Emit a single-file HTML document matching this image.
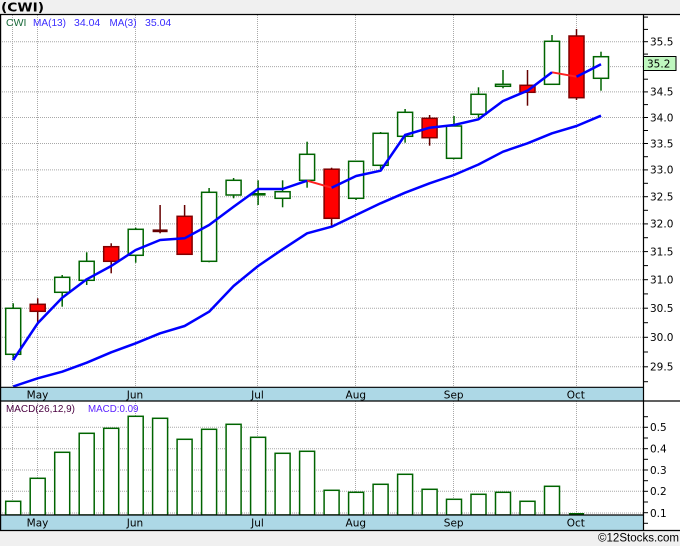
<!DOCTYPE html>
<html><head><meta charset="utf-8"><style>
html,body{margin:0;padding:0;background:#fff;}
svg{display:block;}
</style></head><body>
<svg width="680" height="546" viewBox="0 0 680 546" xmlns="http://www.w3.org/2000/svg">
<rect x="0" y="0" width="680" height="546" fill="#ffffff"/>
<!-- title bar -->
<rect x="0" y="0" width="680" height="14" fill="#f0f0f0"/>
<text x="1" y="11.5" font-family="DejaVu Sans, sans-serif" font-weight="bold" font-size="12.5" textLength="43" lengthAdjust="spacingAndGlyphs" fill="#000">(CWI)</text>
<!-- bottom gray -->
<rect x="0" y="531" width="680" height="15" fill="#f0f0f0"/>
<text x="598" y="541.5" font-family="Liberation Sans, sans-serif" font-size="11.5" textLength="81" lengthAdjust="spacingAndGlyphs" fill="#000">©12Stocks.com</text>

<!-- gridlines upper -->
<g stroke="#a8a8a8" stroke-width="1" stroke-dasharray="1,1" fill="none">
<line x1="0" y1="41.7" x2="643" y2="41.7"/>
<line x1="0" y1="66.6" x2="643" y2="66.6"/>
<line x1="0" y1="91.9" x2="643" y2="91.9"/>
<line x1="0" y1="117.5" x2="643" y2="117.5"/>
<line x1="0" y1="143.5" x2="643" y2="143.5"/>
<line x1="0" y1="169.9" x2="643" y2="169.9"/>
<line x1="0" y1="196.7" x2="643" y2="196.7"/>
<line x1="0" y1="223.9" x2="643" y2="223.9"/>
<line x1="0" y1="251.6" x2="643" y2="251.6"/>
<line x1="0" y1="279.7" x2="643" y2="279.7"/>
<line x1="0" y1="308.2" x2="643" y2="308.2"/>
<line x1="0" y1="337.3" x2="643" y2="337.3"/>
<line x1="0" y1="366.8" x2="643" y2="366.8"/>
<line x1="12.5" y1="15" x2="12.5" y2="387"/>
<line x1="37.5" y1="15" x2="37.5" y2="387"/>
<line x1="135.5" y1="15" x2="135.5" y2="387"/>
<line x1="257.5" y1="15" x2="257.5" y2="387"/>
<line x1="355.5" y1="15" x2="355.5" y2="387"/>
<line x1="453.5" y1="15" x2="453.5" y2="387"/>
<line x1="576.5" y1="15" x2="576.5" y2="387"/>
<!-- lower -->
<line x1="0" y1="427.3" x2="643" y2="427.3"/>
<line x1="0" y1="448.7" x2="643" y2="448.7"/>
<line x1="0" y1="470" x2="643" y2="470"/>
<line x1="0" y1="491.3" x2="643" y2="491.3"/>
<line x1="0" y1="513" x2="643" y2="513"/>
<line x1="12.5" y1="401" x2="12.5" y2="515"/>
<line x1="37.5" y1="401" x2="37.5" y2="515"/>
<line x1="135.5" y1="401" x2="135.5" y2="515"/>
<line x1="257.5" y1="401" x2="257.5" y2="515"/>
<line x1="355.5" y1="401" x2="355.5" y2="515"/>
<line x1="453.5" y1="401" x2="453.5" y2="515"/>
<line x1="576.5" y1="401" x2="576.5" y2="515"/>
</g>

<!-- legend -->
<g font-family="Liberation Sans, sans-serif" font-size="10.5">
<text x="6" y="26" fill="#1a6a3a">CWI</text>
<text x="33" y="26" fill="#3a2cff" textLength="33" lengthAdjust="spacingAndGlyphs">MA(13)</text>
<text x="74" y="26" fill="#3a2cff">34.04</text>
<text x="109.5" y="26" fill="#3a2cff" textLength="27" lengthAdjust="spacingAndGlyphs">MA(3)</text>
<text x="145" y="26" fill="#3a2cff">35.04</text>
<text x="6" y="412" fill="#4a0040" textLength="69" lengthAdjust="spacingAndGlyphs">MACD(26,12,9)</text>
<text x="88" y="412" fill="#5a20ff" textLength="50.5" lengthAdjust="spacingAndGlyphs">MACD:0.09</text>
</g>

<!-- candles: wicks -->
<g stroke-width="1.5" fill="none">
<g stroke="#006400">
<line x1="13.2" y1="303.3" x2="13.2" y2="360"/>
<line x1="62.2" y1="275" x2="62.2" y2="306.7"/>
<line x1="86.7" y1="252.3" x2="86.7" y2="285"/>
<line x1="135.7" y1="227.7" x2="135.7" y2="262.7"/>
<line x1="209.1" y1="188" x2="209.1" y2="262.3"/>
<line x1="233.6" y1="178" x2="233.6" y2="198.3"/>
<line x1="258.1" y1="180.3" x2="258.1" y2="205"/>
<line x1="282.6" y1="180.3" x2="282.6" y2="207.3"/>
<line x1="307.1" y1="141.7" x2="307.1" y2="187.7"/>
<line x1="356.1" y1="161" x2="356.1" y2="200"/>
<line x1="380.6" y1="132" x2="380.6" y2="169.3"/>
<line x1="405.1" y1="109" x2="405.1" y2="142.7"/>
<line x1="454" y1="116" x2="454" y2="159.3"/>
<line x1="478.5" y1="87.3" x2="478.5" y2="118.3"/>
<line x1="503" y1="70" x2="503" y2="88.3"/>
<line x1="552" y1="35" x2="552" y2="84.3"/>
<line x1="601" y1="51.7" x2="601" y2="90.7"/>
</g>
<g stroke="#660000">
<line x1="37.7" y1="298.3" x2="37.7" y2="322"/>
<line x1="111.2" y1="243.3" x2="111.2" y2="273.3"/>
<line x1="160.1" y1="205" x2="160.1" y2="233.3"/>
<line x1="184.6" y1="205" x2="184.6" y2="254.3"/>
<line x1="331.6" y1="167.7" x2="331.6" y2="226"/>
<line x1="429.6" y1="115" x2="429.6" y2="145.7"/>
<line x1="527.5" y1="70" x2="527.5" y2="105.7"/>
<line x1="576.5" y1="29" x2="576.5" y2="100"/>
</g>
</g>
<!-- candle bodies up -->
<g fill="#ffffff" stroke="#006400" stroke-width="1.5">
<rect x="5.7" y="308.3" width="15" height="46"/>
<rect x="54.7" y="277.3" width="15" height="15"/>
<rect x="79.2" y="261.3" width="15" height="19"/>
<rect x="128.2" y="229.3" width="15" height="26"/>
<rect x="201.6" y="192.3" width="15" height="69"/>
<rect x="226.1" y="180.3" width="15" height="14.7"/>
<rect x="275.1" y="191.7" width="15" height="6.6"/>
<rect x="299.6" y="154.3" width="15" height="26"/>
<rect x="348.6" y="161.3" width="15" height="37"/>
<rect x="373.1" y="133.3" width="15" height="32"/>
<rect x="397.6" y="112.3" width="15" height="24"/>
<rect x="446.5" y="126" width="15" height="32.3"/>
<rect x="471" y="94.3" width="15" height="20"/>
<rect x="495.5" y="84.3" width="15" height="2"/>
<rect x="544.5" y="41.3" width="15" height="43"/>
<rect x="593.5" y="56.7" width="15" height="21.6"/>
</g>
<rect x="250.6" y="193" width="15" height="2.6" fill="#006400"/>
<rect x="152.6" y="229.4" width="15" height="2.8" fill="#660000"/>
<!-- candle bodies down -->
<g fill="#ff0000" stroke="#800000" stroke-width="1.5">
<rect x="30.2" y="304.3" width="15" height="7"/>
<rect x="103.7" y="246.7" width="15" height="14.6"/>
<rect x="177.1" y="216.3" width="15" height="38"/>
<rect x="324.1" y="169.2" width="15" height="49.1"/>
<rect x="422.1" y="118.3" width="15" height="19.4"/>
<rect x="520" y="85.3" width="15" height="7"/>
<rect x="569" y="36" width="15" height="61.7"/>
</g>

<!-- MA13 -->
<polyline fill="none" stroke="#0000ff" stroke-width="2.5" stroke-linejoin="round" points="13.2,386.5 37.7,378.3 62.2,371.7 86.7,362.7 111.2,352.3 135.7,343.3 160.1,333.3 184.6,326 209.1,311.7 233.6,286 258.1,266 282.6,249.3 307.1,233.3 331.6,226.7 356.1,215 380.6,203.3 405.1,192.7 429.6,183.3 454,175 478.5,164.5 503,151.7 527.5,143.3 552,133.3 576.5,126 601,115.7"/>
<!-- MA3 -->
<g fill="none" stroke-linejoin="round">
<polyline stroke="#ff2020" stroke-width="2" points="307.1,180.7 331.6,187.7"/>
<polyline stroke="#ff2020" stroke-width="2" points="552,72.3 576.5,76.7"/>
<polyline stroke="#0000ff" stroke-width="2.5" points="13.2,360 37.7,323.3 62.2,297.7 86.7,279.3 111.2,266 135.7,250 160.1,240 184.6,238.3 209.1,225 233.6,206.7 258.1,189 282.6,189 307.1,180.7"/>
<polyline stroke="#0000ff" stroke-width="2.5" points="331.6,187.7 356.1,176 380.6,170.7 405.1,135 429.6,127.7 454,125 478.5,119.3 503,101 527.5,90.7 552,72.3"/>
<polyline stroke="#0000ff" stroke-width="2.5" points="576.5,76.7 601,64.3"/>
</g>

<!-- MACD bars -->
<g fill="#ffffff" stroke="#006400" stroke-width="1.5">
<rect x="5.7" y="501.3" width="15" height="13.7"/>
<rect x="30.2" y="478.3" width="15" height="36.7"/>
<rect x="54.7" y="452.3" width="15" height="62.7"/>
<rect x="79.2" y="433.3" width="15" height="81.7"/>
<rect x="103.7" y="428.3" width="15" height="86.7"/>
<rect x="128.2" y="416.3" width="15" height="98.7"/>
<rect x="152.6" y="418.3" width="15" height="96.7"/>
<rect x="177.1" y="439.3" width="15" height="75.7"/>
<rect x="201.6" y="429.3" width="15" height="85.7"/>
<rect x="226.1" y="424.3" width="15" height="90.7"/>
<rect x="250.6" y="437.3" width="15" height="77.7"/>
<rect x="275.1" y="453.3" width="15" height="61.7"/>
<rect x="299.6" y="451.3" width="15" height="63.7"/>
<rect x="324.1" y="490.3" width="15" height="24.7"/>
<rect x="348.6" y="492.3" width="15" height="22.7"/>
<rect x="373.1" y="484.3" width="15" height="30.7"/>
<rect x="397.6" y="474.3" width="15" height="40.7"/>
<rect x="422.1" y="489.3" width="15" height="25.7"/>
<rect x="446.5" y="499.3" width="15" height="15.7"/>
<rect x="471" y="494.3" width="15" height="20.7"/>
<rect x="495.5" y="492.3" width="15" height="22.7"/>
<rect x="520" y="501.3" width="15" height="13.7"/>
<rect x="544.5" y="486.3" width="15" height="28.7"/>
</g>
<line x1="569" y1="514" x2="584" y2="514" stroke="#006400" stroke-width="2"/>

<!-- x-axis bands -->
<rect x="0" y="387.3" width="643" height="13.7" fill="#add8e6"/>
<rect x="0" y="515" width="643" height="15.5" fill="#add8e6"/>
<g stroke="#000" stroke-width="1.2" fill="none">
<line x1="0" y1="14.5" x2="680" y2="14.5"/>
<line x1="0" y1="387.3" x2="643" y2="387.3"/>
<line x1="0" y1="401" x2="680" y2="401"/>
<line x1="0" y1="515" x2="643" y2="515"/>
<line x1="0" y1="530.5" x2="680" y2="530.5"/>
<line x1="0.6" y1="14" x2="0.6" y2="531"/>
<line x1="643.5" y1="14" x2="643.5" y2="531"/>
</g>
<g font-family="DejaVu Sans, sans-serif" font-size="10.5" fill="#000" text-anchor="middle">
<text x="37.5" y="398.3">May</text>
<text x="135" y="398.3">Jun</text>
<text x="257.5" y="398.3">Jul</text>
<text x="355.8" y="398.3">Aug</text>
<text x="453.7" y="398.3">Sep</text>
<text x="575.8" y="398.3">Oct</text>
<text x="37.5" y="526.7">May</text>
<text x="135" y="526.7">Jun</text>
<text x="257.5" y="526.7">Jul</text>
<text x="355.8" y="526.7">Aug</text>
<text x="453.7" y="526.7">Sep</text>
<text x="575.8" y="526.7">Oct</text>
</g>

<!-- right axis ticks -->
<g stroke="#000" stroke-width="1">
<line x1="643" y1="17.1" x2="648" y2="17.1"/>
<line x1="643" y1="29.4" x2="648" y2="29.4"/>
<line x1="643" y1="41.7" x2="648" y2="41.7"/>
<line x1="643" y1="54.1" x2="648" y2="54.1"/>
<line x1="643" y1="79.2" x2="648" y2="79.2"/>
<line x1="643" y1="91.9" x2="648" y2="91.9"/>
<line x1="643" y1="104.6" x2="648" y2="104.6"/>
<line x1="643" y1="117.5" x2="648" y2="117.5"/>
<line x1="643" y1="130.5" x2="648" y2="130.5"/>
<line x1="643" y1="143.5" x2="648" y2="143.5"/>
<line x1="643" y1="156.7" x2="648" y2="156.7"/>
<line x1="643" y1="169.9" x2="648" y2="169.9"/>
<line x1="643" y1="183.3" x2="648" y2="183.3"/>
<line x1="643" y1="196.7" x2="648" y2="196.7"/>
<line x1="643" y1="210.3" x2="648" y2="210.3"/>
<line x1="643" y1="223.9" x2="648" y2="223.9"/>
<line x1="643" y1="237.7" x2="648" y2="237.7"/>
<line x1="643" y1="251.6" x2="648" y2="251.6"/>
<line x1="643" y1="265.6" x2="648" y2="265.6"/>
<line x1="643" y1="279.7" x2="648" y2="279.7"/>
<line x1="643" y1="293.9" x2="648" y2="293.9"/>
<line x1="643" y1="308.2" x2="648" y2="308.2"/>
<line x1="643" y1="322.7" x2="648" y2="322.7"/>
<line x1="643" y1="337.3" x2="648" y2="337.3"/>
<line x1="643" y1="352" x2="648" y2="352"/>
<line x1="643" y1="366.8" x2="648" y2="366.8"/>
<line x1="643" y1="381.7" x2="648" y2="381.7"/>
<line x1="643" y1="416.7" x2="648" y2="416.7"/>
<line x1="643" y1="427.3" x2="648" y2="427.3"/>
<line x1="643" y1="438" x2="648" y2="438"/>
<line x1="643" y1="448.7" x2="648" y2="448.7"/>
<line x1="643" y1="459.3" x2="648" y2="459.3"/>
<line x1="643" y1="470" x2="648" y2="470"/>
<line x1="643" y1="480.7" x2="648" y2="480.7"/>
<line x1="643" y1="491.3" x2="648" y2="491.3"/>
<line x1="643" y1="502" x2="648" y2="502"/>
<line x1="643" y1="512.7" x2="648" y2="512.7"/>
<line x1="643" y1="523.3" x2="648" y2="523.3"/>
</g>
<g font-family="DejaVu Sans, sans-serif" font-size="10.5" fill="#000">
<text x="650" y="45.5">35.5</text>
<text x="650" y="95.7">34.5</text>
<text x="650" y="121.3">34.0</text>
<text x="650" y="147.3">33.5</text>
<text x="650" y="173.7">33.0</text>
<text x="650" y="200.5">32.5</text>
<text x="650" y="227.7">32.0</text>
<text x="650" y="255.4">31.5</text>
<text x="650" y="283.5">31.0</text>
<text x="650" y="312">30.5</text>
<text x="650" y="341.1">30.0</text>
<text x="650" y="370.6">29.5</text>
<text x="650" y="431.1">0.5</text>
<text x="650" y="452.5">0.4</text>
<text x="650" y="473.8">0.3</text>
<text x="650" y="495.1">0.2</text>
<text x="650" y="516.8">0.1</text>
</g>
<!-- last price box -->
<rect x="643.5" y="56.5" width="32.5" height="14" fill="#bff7bf" stroke="#000" stroke-width="1"/>
<text x="647" y="67.5" font-family="DejaVu Sans, sans-serif" font-size="10.5" fill="#000">35.2</text>
</svg>
</body></html>
